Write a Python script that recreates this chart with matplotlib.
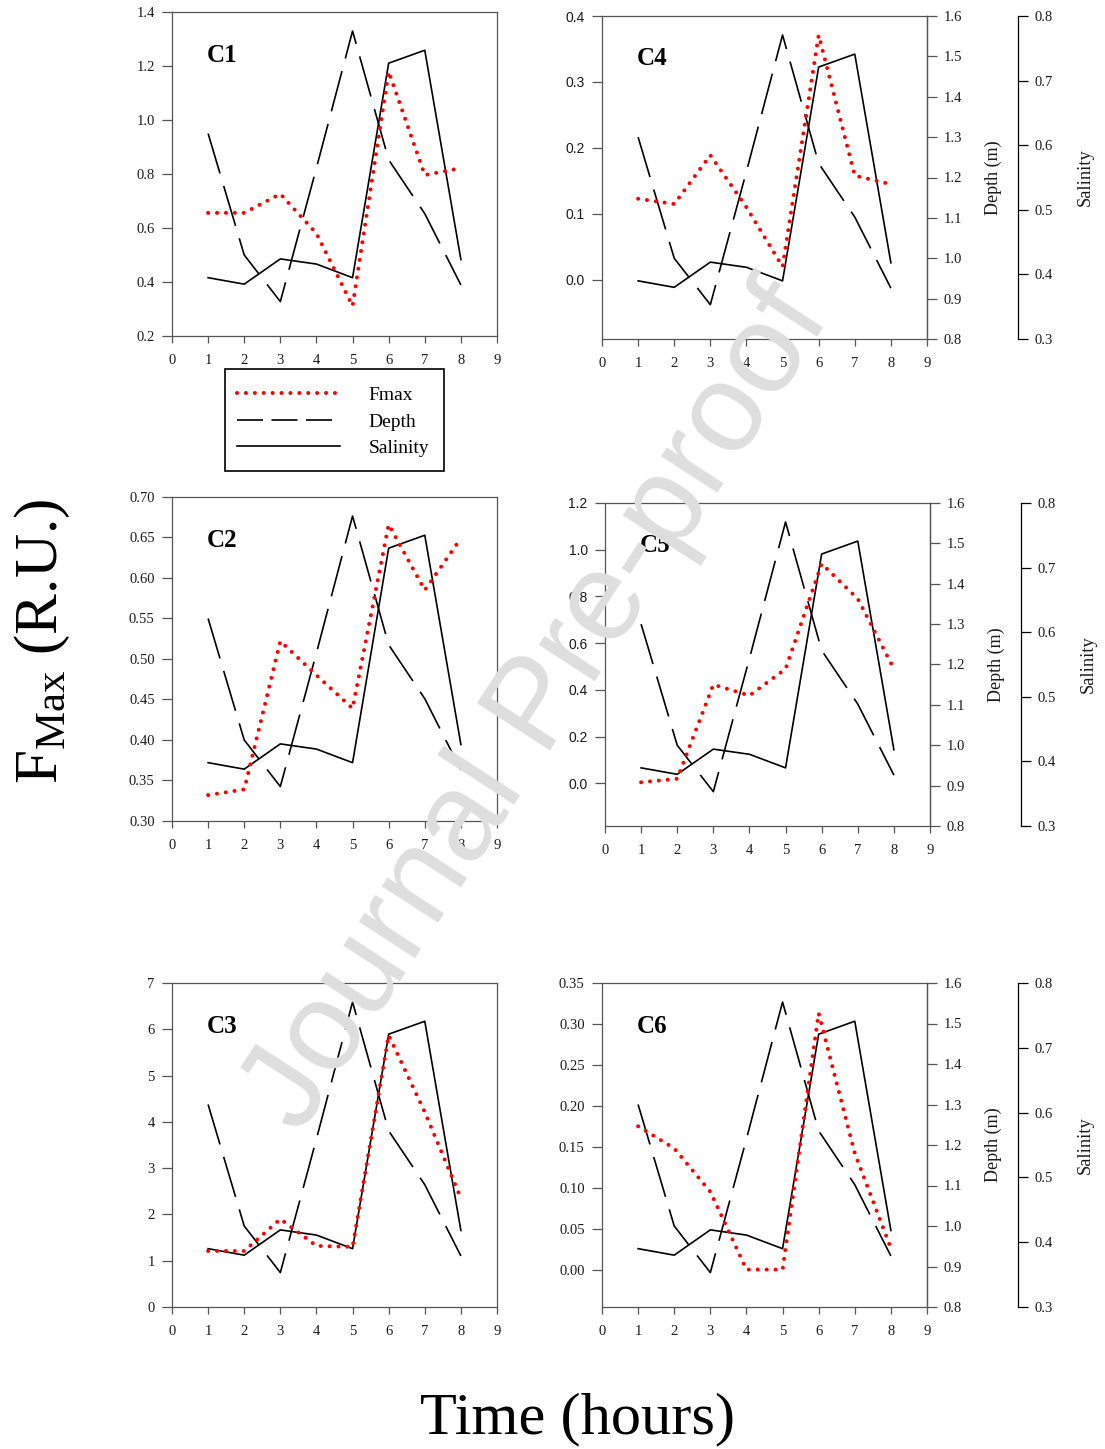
import matplotlib
matplotlib.use('Agg')
import matplotlib.pyplot as plt
from matplotlib.lines import Line2D
from matplotlib.patches import Rectangle
from matplotlib.ticker import FormatStrFormatter

plt.rcParams['font.family'] = ['Liberation Serif', 'DejaVu Serif']
plt.rcParams['mathtext.fontset'] = 'custom'
plt.rcParams['mathtext.rm'] = 'Liberation Serif'
plt.rcParams['mathtext.it'] = 'Liberation Serif:italic'
plt.rcParams['mathtext.bf'] = 'Liberation Serif:bold'

W, H = 1105, 1449

# ---------------- data ----------------
hours = [1, 2, 3, 4, 5, 6, 7, 8]
depth = [1.30, 1.00, 0.885, 1.215, 1.553, 1.235, 1.102, 0.926]
salinity = [0.390, 0.380, 0.419, 0.411, 0.390, 0.721, 0.741, 0.418]

fmax_c1 = [0.656, 0.656, 0.726, 0.580, 0.311, 1.179, 0.796, 0.822]
fmax_c2 = [0.332, 0.339, 0.522, 0.480, 0.439, 0.666, 0.585, 0.649]
fmax_c3 = [1.21, 1.21, 1.90, 1.32, 1.30, 5.87, 4.21, 2.35]
fmax_c4 = [0.123, 0.115, 0.189, 0.110, 0.020, 0.371, 0.158, 0.145]
fmax_c5 = [0.005, 0.020, 0.423, 0.376, 0.490, 0.940, 0.790, 0.490]
fmax_c6 = [0.175, 0.148, 0.095, 0.000, 0.000, 0.313, 0.142, 0.026]

x_ticks = [0, 1, 2, 3, 4, 5, 6, 7, 8, 9]
depth_ticks = [0.8, 0.9, 1.0, 1.1, 1.2, 1.3, 1.4, 1.5, 1.6]
sal_ticks = [0.3, 0.4, 0.5, 0.6, 0.7, 0.8]
ticks_c1 = [0.2, 0.4, 0.6, 0.8, 1.0, 1.2, 1.4]
ticks_c2 = [0.30, 0.35, 0.40, 0.45, 0.50, 0.55, 0.60, 0.65, 0.70]
ticks_c3 = [0, 1, 2, 3, 4, 5, 6, 7]
ticks_c4 = [0.0, 0.1, 0.2, 0.3, 0.4]
ticks_c5 = [0.0, 0.2, 0.4, 0.6, 0.8, 1.0, 1.2]
ticks_c6 = [0.00, 0.05, 0.10, 0.15, 0.20, 0.25, 0.30, 0.35]
panel_names = ['C1', 'C2', 'C3', 'C4', 'C5', 'C6']
legend_labels = ['Fmax', 'Depth', 'Salinity']

# ---------------- styles ----------------
SPINE = '#555555'
TXT = '#1a1a1a'
RED = '#ff0000'
DOT = dict(color=RED, lw=2.9, ls=(0, (0.01, 2.2)), dash_capstyle='round')
DASH = dict(color='black', lw=1.2, ls=(0, (25, 7.8)))
SOLID = dict(color='black', lw=1.2)


def px_rect(x0, x1, y0, y1):
    return [x0 / W, 1 - y1 / H, (x1 - x0) / W, (y1 - y0) / H]


fig = plt.figure(figsize=(W / 100, H / 100), dpi=100)

panels = [
    dict(name=panel_names[0], f=fmax_c1, rect=(172, 497, 12, 336), ylim=(0.2, 1.4), ticks=ticks_c1, fmt='%.1f', right=False, sans=False),
    dict(name=panel_names[1], f=fmax_c2, rect=(172, 497, 497, 821), ylim=(0.30, 0.70), ticks=ticks_c2, fmt='%.2f', right=False, sans=False),
    dict(name=panel_names[2], f=fmax_c3, rect=(172, 497, 983, 1307), ylim=(0, 7), ticks=ticks_c3, fmt='%d', right=False, sans=False),
    dict(name=panel_names[3], f=fmax_c4, rect=(602, 927, 16, 339), ylim=(-0.0896, 0.4), ticks=ticks_c4, fmt='%.1f', right=True, sans=True),
    dict(name=panel_names[4], f=fmax_c5, rect=(605, 930, 503, 826), ylim=(-0.182, 1.2), ticks=ticks_c5, fmt='%.1f', right=True, sans=True),
    dict(name=panel_names[5], f=fmax_c6, rect=(602, 927, 983, 1307), ylim=(-0.0457, 0.35), ticks=ticks_c6, fmt='%.2f', right=True, sans=False),
]

for p in panels:
    x0, x1, y0, y1 = p['rect']
    ax = fig.add_axes(px_rect(x0, x1, y0, y1))
    axd = ax.twinx()
    axs = ax.twinx()
    ax.set_zorder(3)
    ax.patch.set_visible(False)

    axd.plot(hours, depth, **DASH)
    axd.set_ylim(0.8, 1.6)
    axs.plot(hours, salinity, **SOLID)
    axs.set_ylim(0.3, 0.8)
    ax.plot(hours, p['f'], **DOT)

    ax.set_xlim(0, 9)
    ax.set_ylim(*p['ylim'])
    ax.set_xticks(x_ticks)
    ax.set_yticks(p['ticks'])
    ax.yaxis.set_major_formatter(FormatStrFormatter(p['fmt']))
    for s in ax.spines.values():
        s.set_color(SPINE)
        s.set_linewidth(0.9)
    ax.tick_params(axis='y', direction='out', length=7, width=0.9, pad=5.5,
                   color=SPINE, labelcolor=TXT, labelsize=10.5 if not p['sans'] else 10)
    ax.tick_params(axis='x', direction='out', length=5, width=0.9, pad=8,
                   color=SPINE, labelcolor=TXT, labelsize=10.5)
    if p['sans']:
        for lab in ax.get_yticklabels():
            lab.set_fontfamily('Liberation Sans')

    if p['right']:
        axd.set_yticks(depth_ticks)
        axd.yaxis.set_major_formatter(FormatStrFormatter('%.1f'))
        axd.tick_params(axis='y', direction='out', length=7, width=0.9, pad=5,
                        color=SPINE, labelcolor=TXT, labelsize=10.5)
        for k in ['top', 'bottom', 'left']:
            axd.spines[k].set_visible(False)
        axd.spines['right'].set_color(SPINE)
        axd.spines['right'].set_linewidth(0.9)

        axs.set_yticks(sal_ticks)
        axs.yaxis.set_major_formatter(FormatStrFormatter('%.1f'))
        axs.spines['right'].set_position(('outward', 91 * 0.72))
        for k in ['top', 'bottom', 'left']:
            axs.spines[k].set_visible(False)
        axs.spines['right'].set_color('black')
        axs.spines['right'].set_linewidth(0.9)
        axs.tick_params(axis='y', direction='out', length=7, width=0.9, pad=5,
                        color='black', labelcolor=TXT, labelsize=10.5)
        yc = (y0 + y1) / 2
        fig.text((x1 + 66) / W, 1 - yc / H, 'Depth (m)', rotation=90, fontsize=13,
                 ha='center', va='center', color=TXT)
        fig.text((x1 + 158) / W, 1 - yc / H, 'Salinity', rotation=90, fontsize=13.3,
                 ha='center', va='center', color=TXT)
    else:
        for a in (axd, axs):
            a.set_yticks([])
            for s in a.spines.values():
                s.set_visible(False)

    ax.text(0.108, 0.867, p['name'], transform=ax.transAxes, fontsize=18,
            fontweight='bold', ha='left', va='center', color='black')

# ---------------- legend ----------------
handles = [Line2D([], [], **DOT),
           Line2D([], [], color='black', lw=1.2, ls=(0, (15.6, 5.1))),
           Line2D([], [], **SOLID)]
leg = fig.legend(handles, legend_labels, loc='upper left',
                 bbox_to_anchor=(225 / W, 1 - 375 / H), borderaxespad=0,
                 frameon=False, fontsize=14, handlelength=5.3,
                 handletextpad=1.5, borderpad=0.6, labelspacing=0.45)
fig.patches.append(Rectangle((225 / W, 1 - 471 / H), 219 / W, 102 / H,
                             transform=fig.transFigure, fill=False,
                             edgecolor='black', lw=1.2))

# ---------------- big labels ----------------
fig.text(57 / W, 1 - 641 / H, r'F$_{\mathrm{Max}}$ (R.U.)', rotation=90, fontsize=44,
         ha='center', va='baseline', rotation_mode='anchor', color='black')
fig.text(578 / W, 1 - 1433 / H, 'Time (hours)', fontsize=43.5, ha='center',
         va='baseline', color='black')

# ---------------- watermark ----------------
fig.text(538 / W, 1 - 708 / H, 'Journal Pre-proof', rotation=57, fontsize=91,
         family='Liberation Sans', color='#dedede', ha='center', va='center',
         rotation_mode='anchor', zorder=10)

fig.savefig('out.png', dpi=100)
